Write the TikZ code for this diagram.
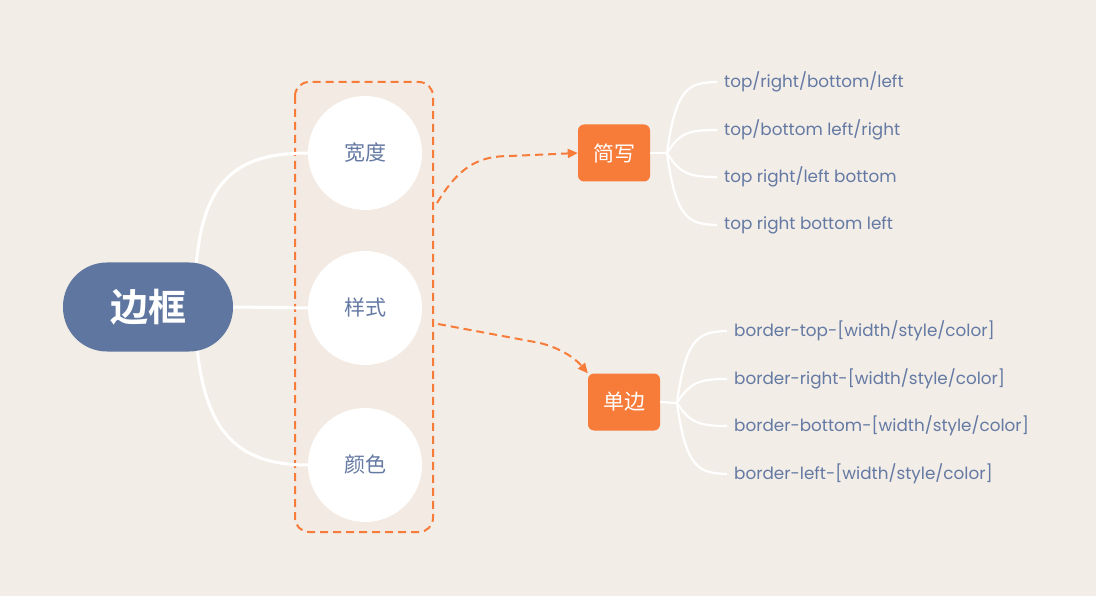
\documentclass[tikz,border=0pt]{standalone}
\usepackage{fontspec}
\setmainfont{Poppins}
\newfontfamily\cjk{Noto Sans CJK SC}
\newfontfamily\cjkb{Noto Sans CJK SC Bold}
\usetikzlibrary{arrows.meta}
\pgfdeclarelayer{bglayer}
\pgfdeclarelayer{edges}
\pgfsetlayers{bglayer,edges,main}
\definecolor{bg}{HTML}{F2EDE7}
\definecolor{boxfill}{HTML}{F3EAE3}
\definecolor{orng}{HTML}{F77B39}
\definecolor{navy}{HTML}{5F77A0}
\definecolor{txt}{HTML}{6479A3}
\tikzset{
  branch/.style={draw=white, line width=3pt},
  leafline/.style={draw=white, line width=2.2pt},
  dasharrow/.style={draw=orng, line width=2pt, dash pattern=on 8pt off 5pt, -{Triangle[length=10pt,width=9pt]}},
  rootnode/.style={rectangle, rounded corners=44pt, fill=navy, minimum width=170pt, minimum height=89pt, text=white, font=\cjkb\fontsize{38}{42}\selectfont},
  bubble/.style={circle, fill=white, minimum size=114pt, inner sep=0pt, text=txt, font=\cjk\fontsize{21}{24}\selectfont},
  tag/.style={rectangle, rounded corners=6pt, fill=orng, minimum width=72pt, minimum height=57pt, text=white, font=\cjk\fontsize{21}{24}\selectfont},
  leaf/.style={anchor=west, inner sep=0pt, text=txt, font=\fontsize{16.8}{20}\selectfont},
}
\begin{document}
\begin{tikzpicture}[x=1pt,y=-1pt]
\begin{pgfonlayer}{bglayer}
\fill[bg] (0,0) rectangle (1096,596);
\draw[fill=boxfill, draw=orng, line width=2pt, dash pattern=on 8pt off 5pt, rounded corners=14pt] (295,82) rectangle (433,532);
\end{pgfonlayer}
\useasboundingbox (0,0) rectangle (1096,596);
% root and bubbles
\node[rootnode] (root) at (148,307) {边框};
\node[bubble] (w) at (365,153) {宽度};
\node[bubble] (s) at (365,308) {样式};
\node[bubble] (c) at (365,465) {颜色};
\coordinate (r0) at (195,300);
\begin{pgfonlayer}{edges}
\draw[branch] (r0) .. controls (195,185) and (230,153) .. (w.west);
\draw[branch] (r0) .. controls (195,425) and (230,465) .. (c.west);
\draw[branch] (root.east) -- (s.west);
\end{pgfonlayer}
% tags
\node[tag] (jx) at (614,153) {简写};
\node[tag] (db) at (624,402) {单边};
% dashed arrows
\coordinate (a1) at (437,203);
\coordinate (a2) at (438,324);
\draw[dasharrow] (a1) .. controls (460,165) and (480,156) .. (510,156) -- (jx.west);
\draw[dasharrow] (a2) -- (540,343) .. controls (560,348) and (575,358) .. (db.north west);
% 简写 leaves
\coordinate (f1) at (667,153);
\draw[leafline] (jx.east) -- (f1);
\node[leaf] (t1) at (724,82) {top/right/bottom/left};
\node[leaf] (t2) at (724,130) {top/bottom left/right};
\node[leaf] (t3) at (724,177) {top right/left bottom};
\node[leaf] (t4) at (724,225) {top right bottom left};
\draw[leafline] (f1) .. controls (676,85) and (690,83) .. ([xshift=-7pt]t1.west);
\draw[leafline] (f1) .. controls (680,132) and (690,130) .. ([xshift=-7pt]t2.west);
\draw[leafline] (f1) .. controls (680,174) and (690,177) .. ([xshift=-7pt]t3.west);
\draw[leafline] (f1) .. controls (676,221) and (690,224) .. ([xshift=-7pt]t4.west);
% 单边 leaves
\coordinate (f2) at (677,403);
\draw[leafline] (db.east) -- (f2);
\node[leaf] (b1) at (734,331) {border-top-[width/style/color]};
\node[leaf] (b2) at (734,379) {border-right-[width/style/color]};
\node[leaf] (b3) at (734,426) {border-bottom-[width/style/color]};
\node[leaf] (b4) at (734,474) {border-left-[width/style/color]};
\draw[leafline] (f2) .. controls (686,335) and (700,332) .. ([xshift=-7pt]b1.west);
\draw[leafline] (f2) .. controls (690,382) and (700,379) .. ([xshift=-7pt]b2.west);
\draw[leafline] (f2) .. controls (690,423) and (700,426) .. ([xshift=-7pt]b3.west);
\draw[leafline] (f2) .. controls (686,470) and (700,473) .. ([xshift=-7pt]b4.west);
\end{tikzpicture}
\end{document}
